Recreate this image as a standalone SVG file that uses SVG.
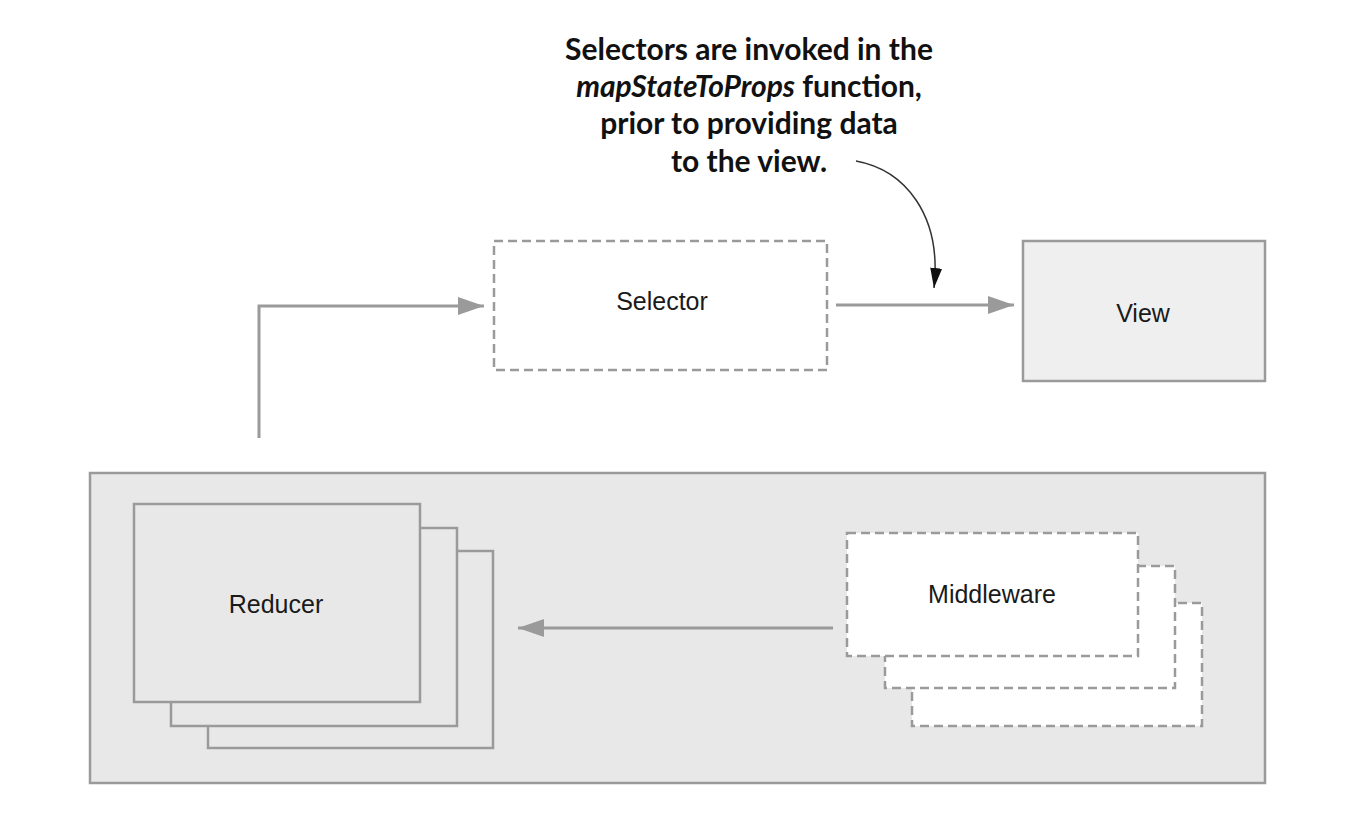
<svg xmlns="http://www.w3.org/2000/svg" width="1370" height="822" viewBox="0 0 1370 822">
<style>
.box{stroke:#9a9a9a;stroke-width:2.5}
.dash{stroke-dasharray:9 5}
.lbl{font-family:"Liberation Sans",Arial,sans-serif;font-size:25px;fill:#1a1a1a;text-anchor:middle}
.conn{fill:none;stroke:#9a9a9a;stroke-width:3}
.note{font-family:Lato,"Open Sans",sans-serif;font-weight:bold;font-size:30px;fill:#111;text-anchor:middle}
</style>
<defs>
<marker id="ag" viewBox="0 0 26 18" refX="26" refY="9" markerWidth="26" markerHeight="18" markerUnits="userSpaceOnUse" orient="auto">
<path d="M0,0 L26,9 L0,18 Z" fill="#9a9a9a"/>
</marker>
<marker id="ab" viewBox="0 0 20 12" refX="20" refY="6" markerWidth="20" markerHeight="12" markerUnits="userSpaceOnUse" orient="auto">
<path d="M0,0 L20,6 L0,12 Z" fill="#111"/>
</marker>
</defs>
<rect width="1370" height="822" fill="#fff"/>
<g id="store">
<rect class="box" x="90" y="473" width="1175" height="310" fill="#e8e8e8"/>
</g>
<g id="reducer">
<rect class="box" x="208" y="551" width="285" height="197" fill="#e8e8e8"/>
<rect class="box" x="171" y="528" width="286" height="198" fill="#e8e8e8"/>
<rect class="box" x="134" y="504" width="286" height="198" fill="#e8e8e8"/>
<text class="lbl" x="276" y="613">Reducer</text>
</g>
<g id="middleware">
<rect class="box dash" x="912" y="603" width="290" height="123" fill="#fff"/>
<rect class="box dash" x="885" y="566" width="290" height="122" fill="#fff"/>
<rect class="box dash" x="847" y="533" width="291" height="123" fill="#fff"/>
<text class="lbl" x="992" y="603">Middleware</text>
</g>
<g id="selector">
<rect class="box dash" x="494" y="241" width="333" height="129" fill="#fff"/>
<text class="lbl" x="662" y="310">Selector</text>
</g>
<g id="view">
<rect class="box" x="1023" y="241" width="242" height="140" fill="#efefef"/>
<text class="lbl" x="1143" y="322">View</text>
</g>
<g id="connectors">
<path class="conn" d="M259,438 V306 H484" marker-end="url(#ag)"/>
<path class="conn" d="M836,305 H1014" marker-end="url(#ag)"/>
<path class="conn" d="M833,628 H518" marker-end="url(#ag)"/>
<path d="M856,161 C905,170 942,215 934,288" fill="none" stroke="#333" stroke-width="1.5" marker-end="url(#ab)"/>
</g>
<g id="note">
<text class="note" x="749" y="60">Selectors are invoked in the</text>
<text class="note" x="749" y="97"><tspan font-style="italic">mapStateToProps</tspan> function,</text>
<text class="note" x="749" y="134">prior to providing data</text>
<text class="note" x="749" y="172">to the view.</text>
</g>
</svg>
